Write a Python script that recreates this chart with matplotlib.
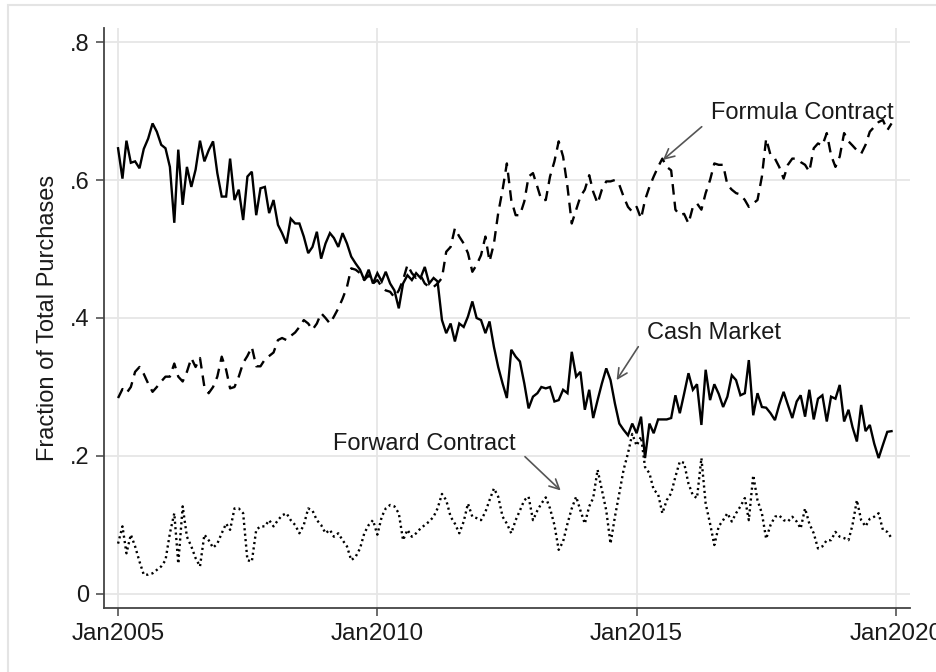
import matplotlib
matplotlib.use('Agg')
import matplotlib.pyplot as plt
import matplotlib.dates as mdates
import pandas as pd
from matplotlib.patches import Rectangle

# monthly shares, Jan2005 .. Dec2019
cash = [
    0.646, 0.602, 0.657, 0.625, 0.627, 0.617, 0.645, 0.660, 0.682, 0.670, 0.651, 0.646,
    0.619, 0.538, 0.644, 0.564, 0.619, 0.590, 0.615, 0.657, 0.627, 0.643, 0.656, 0.610,
    0.576, 0.576, 0.631, 0.571, 0.586, 0.542, 0.605, 0.612, 0.549, 0.588, 0.590, 0.552,
    0.571, 0.535, 0.523, 0.508, 0.544, 0.537, 0.537, 0.518, 0.494, 0.503, 0.525, 0.486,
    0.508, 0.523, 0.516, 0.503, 0.523, 0.508, 0.489, 0.479, 0.470, 0.455, 0.470, 0.450,
    0.465, 0.453, 0.467, 0.450, 0.440, 0.414, 0.450, 0.462, 0.455, 0.465, 0.458, 0.474,
    0.450, 0.458, 0.453, 0.397, 0.378, 0.392, 0.366, 0.392, 0.387, 0.402, 0.424, 0.400,
    0.397, 0.378, 0.395, 0.358, 0.329, 0.305, 0.284, 0.354, 0.344, 0.337, 0.305, 0.269,
    0.286, 0.291, 0.300, 0.298, 0.300, 0.279, 0.281, 0.296, 0.291, 0.351, 0.315, 0.322,
    0.267, 0.296, 0.255, 0.281, 0.305, 0.327, 0.310, 0.276, 0.247, 0.238, 0.230, 0.247,
    0.233, 0.257, 0.197, 0.247, 0.233, 0.253, 0.253, 0.253, 0.255, 0.288, 0.262, 0.290,
    0.320, 0.296, 0.304, 0.245, 0.325, 0.281, 0.304, 0.290, 0.271, 0.286, 0.317, 0.310,
    0.288, 0.291, 0.339, 0.259, 0.291, 0.271, 0.270, 0.262, 0.252, 0.274, 0.293, 0.274,
    0.255, 0.279, 0.288, 0.257, 0.296, 0.253, 0.283, 0.288, 0.250, 0.286, 0.283, 0.303,
    0.250, 0.267, 0.242, 0.221, 0.274, 0.236, 0.245, 0.218, 0.197, 0.216, 0.235, 0.236,
]
formula = [
    0.284, 0.297, 0.291, 0.300, 0.322, 0.329, 0.319, 0.305, 0.293, 0.300, 0.308, 0.315,
    0.315, 0.334, 0.315, 0.308, 0.322, 0.342, 0.329, 0.342, 0.300, 0.291, 0.300, 0.315,
    0.344, 0.325, 0.298, 0.300, 0.315, 0.335, 0.345, 0.358, 0.330, 0.330, 0.340, 0.345,
    0.350, 0.368, 0.371, 0.368, 0.374, 0.379, 0.387, 0.397, 0.392, 0.383, 0.392, 0.407,
    0.400, 0.392, 0.402, 0.414, 0.428, 0.445, 0.472, 0.470, 0.465, 0.455, 0.462, 0.450,
    0.455, 0.445, 0.440, 0.438, 0.430, 0.440, 0.455, 0.477, 0.465, 0.458, 0.462, 0.450,
    0.445, 0.445, 0.450, 0.458, 0.496, 0.503, 0.530, 0.518, 0.508, 0.494, 0.467, 0.477,
    0.491, 0.518, 0.482, 0.508, 0.552, 0.586, 0.624, 0.571, 0.549, 0.549, 0.569, 0.605,
    0.610, 0.590, 0.571, 0.571, 0.605, 0.627, 0.656, 0.634, 0.590, 0.537, 0.557, 0.576,
    0.586, 0.607, 0.583, 0.566, 0.586, 0.598, 0.598, 0.600, 0.593, 0.576, 0.561, 0.554,
    0.561, 0.544, 0.571, 0.590, 0.605, 0.619, 0.631, 0.619, 0.614, 0.557, 0.549, 0.551,
    0.537, 0.561, 0.566, 0.557, 0.581, 0.600, 0.624, 0.622, 0.622, 0.593, 0.586, 0.581,
    0.579, 0.571, 0.561, 0.566, 0.571, 0.605, 0.660, 0.636, 0.631, 0.619, 0.602, 0.622,
    0.631, 0.631, 0.626, 0.622, 0.612, 0.646, 0.653, 0.650, 0.668, 0.636, 0.619, 0.634,
    0.668, 0.656, 0.650, 0.643, 0.638, 0.651, 0.670, 0.677, 0.684, 0.687, 0.672, 0.682,
]
forward = [
    0.073, 0.098, 0.059, 0.086, 0.069, 0.047, 0.028, 0.028, 0.030, 0.035, 0.040, 0.049,
    0.088, 0.117, 0.044, 0.127, 0.083, 0.069, 0.052, 0.040, 0.086, 0.078, 0.067, 0.073,
    0.088, 0.102, 0.093, 0.124, 0.124, 0.117, 0.049, 0.047, 0.093, 0.098, 0.098, 0.107,
    0.098, 0.107, 0.114, 0.117, 0.107, 0.100, 0.088, 0.100, 0.124, 0.121, 0.107, 0.100,
    0.088, 0.093, 0.083, 0.088, 0.078, 0.069, 0.049, 0.054, 0.066, 0.088, 0.100, 0.107,
    0.086, 0.112, 0.124, 0.129, 0.127, 0.117, 0.078, 0.093, 0.083, 0.088, 0.095, 0.100,
    0.105, 0.112, 0.124, 0.145, 0.136, 0.112, 0.102, 0.088, 0.105, 0.131, 0.112, 0.110,
    0.107, 0.119, 0.136, 0.153, 0.141, 0.112, 0.102, 0.088, 0.107, 0.121, 0.136, 0.141,
    0.107, 0.121, 0.131, 0.140, 0.124, 0.100, 0.064, 0.076, 0.102, 0.124, 0.141, 0.121,
    0.102, 0.127, 0.139, 0.180, 0.151, 0.121, 0.073, 0.112, 0.146, 0.180, 0.204, 0.232,
    0.215, 0.228, 0.184, 0.175, 0.151, 0.145, 0.117, 0.136, 0.146, 0.170, 0.192, 0.190,
    0.160, 0.143, 0.139, 0.197, 0.131, 0.102, 0.071, 0.098, 0.107, 0.117, 0.105, 0.117,
    0.127, 0.139, 0.107, 0.172, 0.136, 0.117, 0.080, 0.100, 0.112, 0.114, 0.107, 0.105,
    0.112, 0.105, 0.095, 0.124, 0.102, 0.088, 0.066, 0.069, 0.078, 0.078, 0.090, 0.083,
    0.081, 0.078, 0.100, 0.136, 0.107, 0.098, 0.109, 0.112, 0.117, 0.093, 0.090, 0.081,
]

xtick_dates = ['2005-01-01', '2010-01-01', '2015-01-01', '2020-01-01']
xtick_labels = ['Jan2005', 'Jan2010', 'Jan2015', 'Jan2020']
ytick_values = [0, 0.2, 0.4, 0.6, 0.8]
ytick_labels = ['0', '.2', '.4', '.6', '.8']

plt.rcParams['font.family'] = ['Liberation Sans', 'DejaVu Sans']

dates = pd.date_range('2005-01-01', periods=len(cash), freq='MS')
txt = '#1a1a1a'
axis_col = '#444444'
arrow_col = '#555555'
fs = 17

fig = plt.figure(figsize=(9.37, 6.72), dpi=100)
# outer graph region border
fig.patches.append(Rectangle((8 / 937, -0.05), 1.2, 1.05 - 5 / 672,
                             transform=fig.transFigure, fill=False,
                             edgecolor='#e4e4e4', lw=1.5))
ax = fig.add_axes([104 / 937, 64 / 672, 806 / 937, 580 / 672])

ax.plot(dates, cash, color='black', lw=1.7, solid_joinstyle='miter')
ax.plot(dates, formula, color='black', lw=1.7, linestyle=(0, (4.5, 3)))
ax.plot(dates, forward, color='black', lw=1.7, linestyle=(0, (0.9, 1.4)))

x0 = pd.Timestamp('2005-01-01') - pd.Timedelta(days=99)
x1 = pd.Timestamp('2020-01-01') + pd.Timedelta(days=99)
ax.set_xlim(x0, x1)
ax.set_ylim(-0.0203, 0.8203)

xt = [mdates.date2num(pd.Timestamp(d)) for d in xtick_dates]
ax.set_xticks(xt)
ax.set_xticklabels(xtick_labels)
ax.set_yticks(ytick_values)
ax.set_yticklabels(ytick_labels)
ax.tick_params(axis='both', labelsize=fs, colors=axis_col, labelcolor=txt,
               length=6, width=1.1, pad=4.5)
ax.tick_params(axis='x', labelsize=17.5)

ax.grid(True, color='#e6e6e6', lw=1.3)
ax.set_axisbelow(True)
for s in ['top', 'right']:
    ax.spines[s].set_visible(False)
for s in ['left', 'bottom']:
    ax.spines[s].set_color(axis_col)
    ax.spines[s].set_linewidth(1.3)

ax.set_ylabel('Fraction of Total Purchases', fontsize=fs, color=txt)
ax.yaxis.set_label_coords(-0.056, 0.5)

# labels and arrows
labels = [
    ('Formula Contract', (0.866, 0.853), (0.7416, 0.8298), ('2015-07-05', 0.629)),
    ('Cash Market', (0.7568, 0.4741), (0.6629, 0.4505), ('2014-08-13', 0.310)),
    ('Forward Contract', (0.3976, 0.2828), (0.5223, 0.2609), ('2013-07-15', 0.150)),
]
for name, tpos, start, tip in labels:
    ax.text(tpos[0], tpos[1], name, transform=ax.transAxes, fontsize=fs,
            color=txt, ha='center', va='center')
    ax.annotate('', xy=(mdates.date2num(pd.Timestamp(tip[0])), tip[1]),
                xycoords='data', xytext=start, textcoords='axes fraction',
                arrowprops=dict(arrowstyle='->,head_length=0.7,head_width=0.35',
                                color=arrow_col, lw=1.2, shrinkA=0, shrinkB=0))

fig.savefig('out.png', dpi=100)
